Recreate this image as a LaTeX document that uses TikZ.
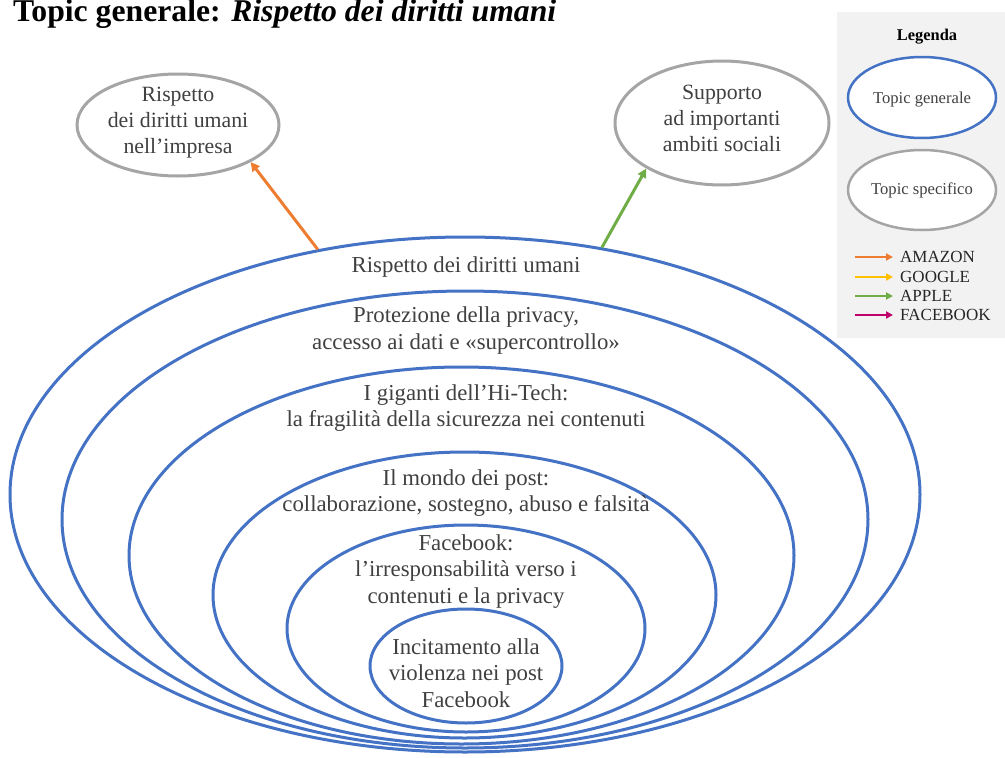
\documentclass[tikz,border=0pt]{standalone}
\usepackage{fontspec}
\setmainfont{Liberation Serif}
\usetikzlibrary{shapes.geometric,arrows.meta}

\definecolor{ringblue}{HTML}{4472C4}
\definecolor{ringgray}{HTML}{A5A5A5}
\definecolor{txtgray}{HTML}{404040}
\definecolor{legendbg}{HTML}{F2F2F2}
\definecolor{amazonc}{HTML}{ED7D31}
\definecolor{googlec}{HTML}{FFC000}
\definecolor{applec}{HTML}{70AD47}
\definecolor{facebookc}{HTML}{C0006A}

\tikzset{
  ring/.style={ellipse, draw=ringblue, line width=3pt, inner sep=0pt},
  subtopic/.style={ellipse, draw=ringgray, line width=3pt, inner sep=0pt},
  ringtext/.style={align=center, text=txtgray, inner sep=0pt,
    font=\fontsize{22.8}{26.8}\selectfont},
  bubbletext/.style={align=center, text=txtgray, inner sep=0pt,
    font=\fontsize{21.8}{26}\selectfont},
  link/.style={line width=3pt, -{Triangle[length=9pt,width=9pt]}},
  keylink/.style={line width=2.5pt, -{Triangle[length=7pt,width=7pt]}},
  keytext/.style={anchor=west, inner sep=0pt, text=black!85,
    font=\fontsize{17}{18}\selectfont},
  keyoval/.style={ellipse, line width=2.5pt, fill=white, inner sep=0pt,
    minimum width=148, minimum height=81},
  keyovaltext/.style={inner sep=0pt, text=txtgray, font=\fontsize{16.6}{18}\selectfont},
}

\begin{document}
\begin{tikzpicture}[x=1pt,y=-1pt]
\useasboundingbox (0,0) rectangle (1005,758);

% title
\node[anchor=base west, inner sep=0pt, font=\bfseries\fontsize{31.7}{34}\selectfont]
  (title) at (13,21) {Topic generale: \textit{Rispetto dei diritti umani}};

% nested topic rings
\node[ring, minimum width=910, minimum height=515] (e1) at (465,494.5) {};
\node[ring, minimum width=806, minimum height=457] (e2) at (465,519.5) {};
\node[ring, minimum width=665, minimum height=377] (e3) at (461.5,555.5) {};
\node[ring, minimum width=503, minimum height=286] (e4) at (464.5,595) {};
\node[ring, minimum width=358, minimum height=207] (e5) at (466,628.5) {};
\node[ring, minimum width=192, minimum height=114] (e6) at (466,666) {};

\node[ringtext] (t1) at (466,267) {Rispetto dei diritti umani};
\node[ringtext] (t2) at (466,330.5) {Protezione della privacy,\\accesso ai dati e «supercontrollo»};
\node[ringtext] (t3) at (466,408) {I giganti dell’Hi-Tech:\\la fragilità della sicurezza nei contenuti};
\node[ringtext] (t4) at (466,493) {Il mondo dei post:\\collaborazione, sostegno, abuso e falsità};
\node[ringtext] (t5) at (466,571.5) {Facebook:\\l’irresponsabilità verso i\\contenuti e la privacy};
\node[ringtext] (t6) at (466,673) {Incitamento alla\\violenza nei post\\Facebook};

% specific topics
\node[subtopic, minimum width=202, minimum height=102] (g1) at (178,125) {};
\node[bubbletext] (gt1) at (178,123) {Rispetto\\dei diritti umani\\nell’impresa};
\node[subtopic, minimum width=214, minimum height=124] (g2) at (722,123) {};
\node[bubbletext] (gt2) at (722,118) {Supporto\\ad importanti\\ambiti sociali};

\draw[link, amazonc] (e1.121) -- (g1.-27);
\draw[link, applec] (e1.61) -- (g2.-149);

% legend
\node[fill=legendbg, inner sep=0pt, minimum width=168, minimum height=326,
  anchor=north west] (legend) at (837,12) {};
\node[inner sep=0pt, font=\bfseries\fontsize{16.4}{18}\selectfont] (legtitle) at (927,37) {Legenda};
\node[keyoval, draw=ringblue] (kg) at (922,97.5) {};
\node[keyovaltext] (kgt) at (922,100) {Topic generale};
\node[keyoval, draw=ringgray, minimum height=80] (ks) at (922,190) {};
\node[keyovaltext] (kst) at (922,190) {Topic specifico};

\coordinate (k1s) at (855,257); \coordinate (k1e) at (893,257);
\coordinate (k2s) at (855,277); \coordinate (k2e) at (893,277);
\coordinate (k3s) at (855,296); \coordinate (k3e) at (893,296);
\coordinate (k4s) at (855,315); \coordinate (k4e) at (893,315);
\draw[keylink, amazonc] (k1s) -- (k1e);
\draw[keylink, googlec] (k2s) -- (k2e);
\draw[keylink, applec] (k3s) -- (k3e);
\draw[keylink, facebookc] (k4s) -- (k4e);
\node[keytext] (k1t) at (900,257) {AMAZON};
\node[keytext] (k2t) at (900,277) {GOOGLE};
\node[keytext] (k3t) at (900,296) {APPLE};
\node[keytext] (k4t) at (900,315) {FACEBOOK};
\end{tikzpicture}
\end{document}
